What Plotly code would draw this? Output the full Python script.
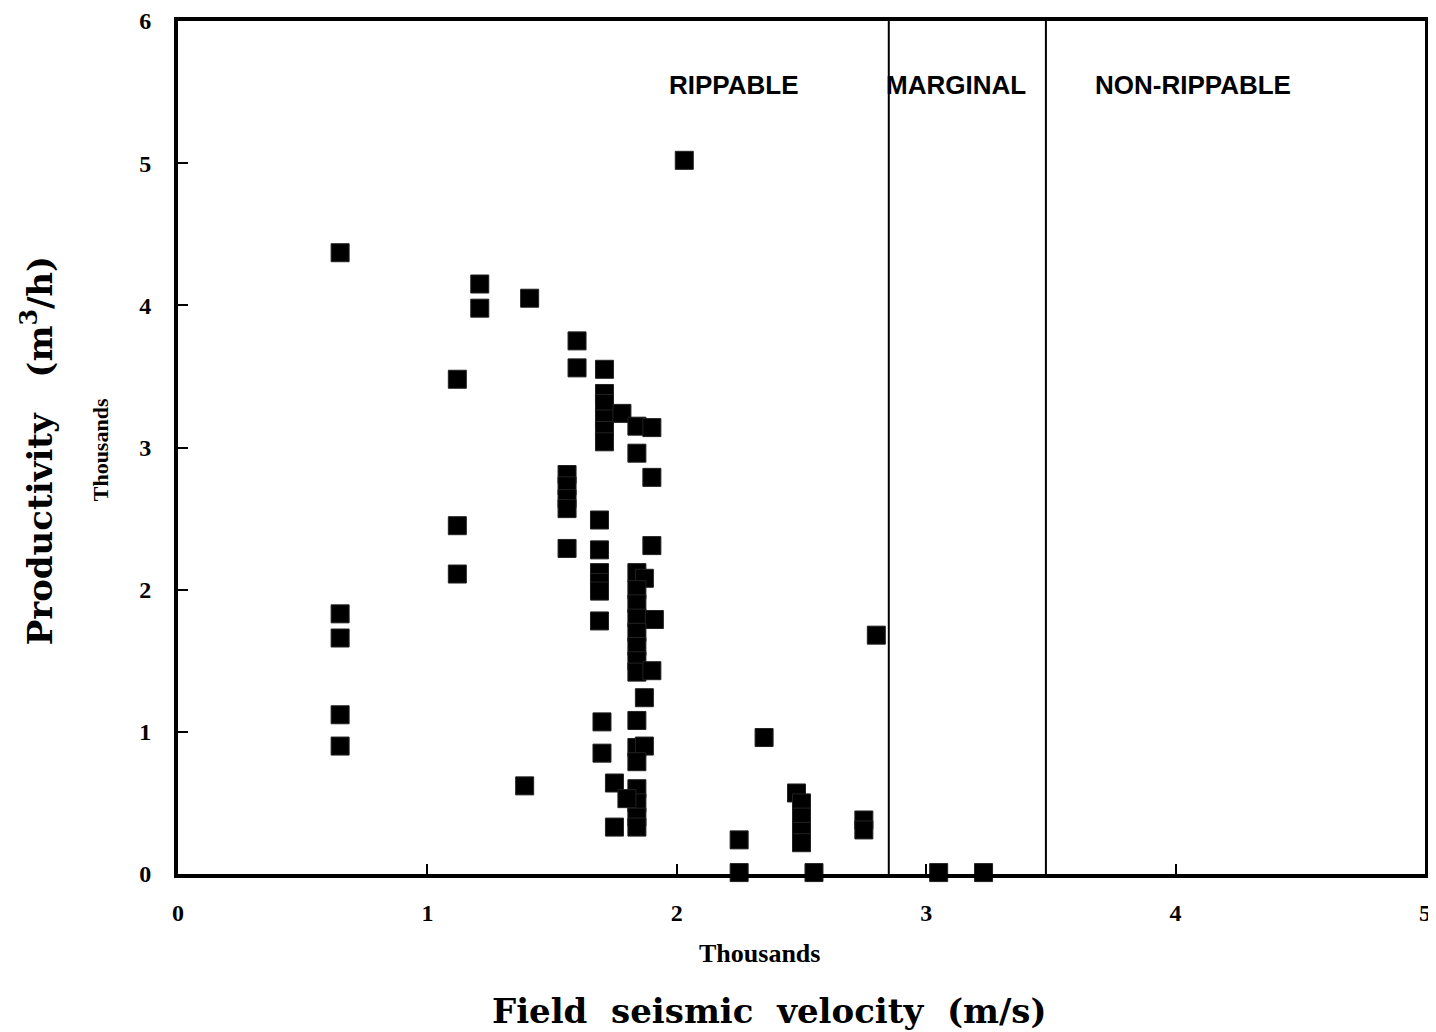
import plotly.graph_objects as go

# field seismic velocity (thousands m/s) vs productivity (thousands m3/h)
velocity = [
    0.65, 0.65, 0.65, 0.65, 0.65, 1.12, 1.12, 1.12, 1.21, 1.21,
    1.41, 1.39, 1.56, 1.56, 1.56, 1.56, 1.56, 1.60, 1.60, 1.69,
    1.69, 1.69, 1.69, 1.69, 1.69, 1.70, 1.70, 1.71, 1.71, 1.71,
    1.71, 1.71, 1.71, 1.78, 1.75, 1.75, 1.84, 1.90, 1.84, 1.90,
    1.90, 1.84, 1.87, 1.84, 1.84, 1.84, 1.91, 1.84, 1.84, 1.84,
    1.84, 1.90, 1.87, 1.84, 1.84, 1.87, 1.84, 1.84, 1.84, 1.84,
    1.84, 1.80, 2.03, 2.25, 2.25, 2.35, 2.48, 2.50, 2.50, 2.50,
    2.50, 2.55, 2.75, 2.75, 2.80, 3.05, 3.23,
]
productivity = [
    4.37, 1.83, 1.66, 1.12, 0.90, 3.48, 2.45, 2.11, 4.15, 3.98,
    4.05, 0.62, 2.81, 2.73, 2.64, 2.57, 2.29, 3.75, 3.56, 2.49,
    2.28, 2.12, 2.05, 1.99, 1.78, 1.07, 0.85, 3.55, 3.38, 3.31,
    3.20, 3.12, 3.04, 3.24, 0.64, 0.33, 3.15, 3.14, 2.96, 2.79,
    2.31, 2.12, 2.08, 2.00, 1.90, 1.80, 1.79, 1.70, 1.60, 1.50,
    1.42, 1.43, 1.24, 1.08, 0.89, 0.90, 0.79, 0.60, 0.50, 0.40,
    0.33, 0.53, 5.02, 0.24, 0.01, 0.96, 0.57, 0.50, 0.40, 0.30,
    0.22, 0.01, 0.38, 0.31, 1.68, 0.01, 0.01,
]

# class boundaries and labels
boundaries = [2.85, 3.48]
zone_names = ["RIPPABLE", "MARGINAL", "NON-RIPPABLE"]
zone_x = [2.23, 3.12, 4.07]

serif = "DejaVu Serif, Liberation Serif, serif"
tickserif = "Liberation Serif, DejaVu Serif, serif"
sans = "Liberation Sans, Arial, sans-serif"

fig = go.Figure()
fig.add_trace(go.Scatter(
    x=velocity, y=productivity, mode="markers", cliponaxis=False,
    marker=dict(symbol="square", size=18, color="black",
                line=dict(color="#222", width=1)),
    showlegend=False,
))

for b in boundaries:
    fig.add_shape(type="line", x0=b, x1=b, y0=0, y1=6, xref="x", yref="y",
                  line=dict(color="black", width=2))

for name, zx in zip(zone_names, zone_x):
    fig.add_annotation(x=zx, y=5.55, text=f"<b>{name}</b>", showarrow=False,
                       font=dict(family=sans, size=26, color="black"))

axis_common = dict(
    showgrid=False, zeroline=False, showline=True, linecolor="black",
    linewidth=4, mirror=True, ticks="inside", ticklen=10, tickwidth=2,
    tickcolor="black", dtick=1, automargin=False, ticklabeloverflow="allow",
    tickfont=dict(family=tickserif, size=24, color="black", weight="bold"),
)
fig.update_xaxes(range=[0, 5], ticklabelstandoff=14, **axis_common)
fig.update_yaxes(range=[0, 6], ticklabelstandoff=18, **axis_common)

# "Thousands" scale notes and axis titles
fig.add_annotation(x=0.466, y=-0.112, xref="paper", yref="paper",
                   text="<b>Thousands</b>", showarrow=False,
                   font=dict(family=tickserif, size=26, color="black"))
fig.add_annotation(x=-0.074, y=0.497, xref="paper", yref="paper",
                   text="<b>Thousands</b>", showarrow=False, textangle=-90,
                   font=dict(family=tickserif, size=22, color="black"))
fig.add_annotation(x=0.474, y=-0.186, xref="paper", yref="paper",
                   text="<b>Field  seismic  velocity  (m/s)</b>", showarrow=False,
                   font=dict(family=serif, size=34, color="black"))
fig.add_annotation(x=-0.132, y=0.496, xref="paper", yref="paper",
                   text="<b>Productivity   (m<sup>3</sup>/h)</b>", showarrow=False,
                   textangle=-90,
                   font=dict(family=serif, size=34, color="black"))

# margins offset by the page's 8px body margin
fig.update_layout(
    width=1436, height=1032,
    margin=dict(l=170, r=19, t=13, b=166),
    plot_bgcolor="white", paper_bgcolor="white",
)

fig.write_html("out.html")
